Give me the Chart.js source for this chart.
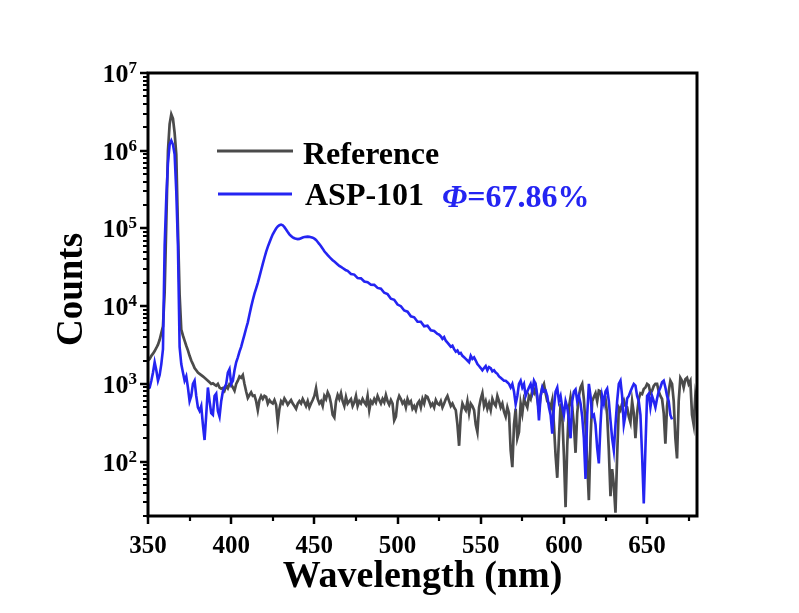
<!DOCTYPE html>
<html><head><meta charset="utf-8">
<script src="https://cdn.jsdelivr.net/npm/chart.js@4.4.1/dist/chart.umd.min.js"></script>
<style>html,body{margin:0;padding:0;background:#fff;}canvas{display:block;}</style>
</head><body>
<canvas id="c" width="799" height="613"></canvas>
<script>
const seriesNames = ['Reference', 'ASP-101'];
const yieldSymbol = 'Φ';
const yieldValue = '=67.86%';
const xAxisTitle = 'Wavelength (nm)';
const yAxisTitle = 'Counts';
const xTickLabels = [350, 400, 450, 500, 550, 600, 650];
const xMinorTicks = [375, 425, 475, 525, 575, 625, 675];
const yDecadeExponents = [2, 3, 4, 5, 6, 7];
const yMinorMultipliers = [2, 3, 4, 5, 6, 7, 8, 9];

const refWavelength = [
350,351,352,353,354,355,356,357,358,359,360,361,362,363,364,365,366,367,368,369,
370,371,372,373,374,375,376,377,378,379,380,381,382,383,384,385,386,387,388,389,
390,391,392,393,394,395,396,397,398,399,400,401,402,403,404,405,406,407,408,409,
410,411,412,413,414,415,416,417,418,419,420,421,422,423,424,425,426,427,428,429,
430,431,432,433,434,435,436,437,438,439,440,441,442,443,444,445,446,447,448,449,
450,451,452,453,454,455,456,457,458,459,460,461,462,463,464,465,466,467,468,469,
470,471,472,473,474,475,476,477,478,479,480,481,482,483,484,485,486,487,488,489,
490,491,492,493,494,495,496,497,498,499,500,501,502,503,504,505,506,507,508,509,
510,511,512,513,514,515,516,517,518,519,520,521,522,523,524,525,526,527,528,529,
530,531,532,533,534,535,536,537,538,539,540,541,542,543,544,545,546,547,548,549,
550,551,552,553,554,555,556,557,558,559,560,561,562,563,564,565,566,567,568,569,
570,571,572,573,574,575,576,577,578,579,580,581,582,583,584,585,586,587,588,589,
590,591,592,593,594,595,596,597,598,599,600,601,602,603,604,605,606,607,608,609,
610,611,612,613,614,615,616,617,618,619,620,621,622,623,624,625,626,627,628,629,
630,631,632,633,634,635,636,637,638,639,640,641,642,643,644,645,646,647,648,649,
650,651,652,653,654,655,656,657,658,659,660,661,662,663,664,665,666,667,668,669,
670,671,672,673,674,675,676,677,678,679,680];
const refCounts = [
2000,2100,2300,2450,2650,2900,3200,3700,4500,5500,
15000,120000,1000000,2200000,2950000,2600000,1700000,900000,100000,14000,
5000,4200,3600,3100,2700,2300,2000,1800,1600,1500,
1400,1350,1300,1250,1200,1150,1100,1050,1000,1020,
980,950,1000,900,870,890,820,950,880,1000,
980,900,820,1000,1100,1250,1200,1300,1000,800,
660,720,780,700,710,600,460,620,700,640,
700,680,560,620,580,560,620,540,320,480,
600,560,650,600,540,580,620,560,520,480,
560,600,560,640,580,520,600,500,560,620,
700,880,640,560,600,520,700,640,780,700,
560,400,370,600,720,640,760,600,520,680,
560,600,640,520,580,700,520,600,560,640,
580,540,700,460,600,560,640,580,700,620,
560,640,580,720,600,540,620,560,340,380,
600,700,640,560,600,500,640,560,600,480,
520,460,560,600,500,640,560,700,680,600,
520,560,500,620,560,540,600,500,560,640,
700,600,520,560,500,460,300,160,400,560,
500,460,600,420,560,520,460,300,240,500,
640,760,520,600,480,560,460,640,560,520,
700,600,500,560,440,380,500,420,140,85,
300,480,200,240,560,420,640,560,500,700,
640,820,760,900,640,460,700,900,1000,760,
600,560,500,620,300,120,62,200,560,400,
120,26,160,500,680,500,300,130,420,700,
900,1000,640,300,100,32,200,600,680,760,
600,820,800,560,600,640,400,140,36,80,
50,22,120,500,460,560,620,520,500,380,
320,600,420,200,420,640,760,740,860,900,
1000,960,760,820,940,1000,1000,800,700,640,
420,170,520,800,1100,1000,600,200,110,600,
1200,1100,900,1150,1200,1000,1100,400,300,700,500];

const aspWavelength = [
350,351,352,353,354,355,356,357,358,359,360,361,362,363,364,365,366,367,368,369,
370,371,372,373,374,375,376,377,378,379,380,381,382,383,384,385,386,387,388,389,
390,391,392,393,394,395,396,397,398,399,400,401,402,403,404,405,406,407,408,409,
410,411,412,413,414,415,416,417,418,419,420,421,422,423,424,425,426,427,428,429,
430,431,432,433,434,435,436,437,438,439,440,441,442,443,444,445,446,447,448,449,
450,451,452,453,454,455,456,457,458,459,460,461,462,463,464,465,466,467,468,469,
470,472,474,476,478,480,482,484,486,488,490,492,494,496,498,500,502,504,506,508,
510,512,514,516,518,520,522,524,525,526,527,528,529,
530,531,532,533,534,535,536,537,538,539,540,541,542,543,544,545,546,547,548,549,
550,551,552,553,554,555,556,557,558,559,560,561,562,563,564,565,566,567,568,569,
570,571,572,573,574,575,576,577,578,579,580,581,582,583,584,585,586,587,588,589,
590,591,592,593,594,595,596,597,598,599,600,601,602,603,604,605,606,607,608,609,
610,611,612,613,614,615,616,617,618,619,620,621,622,623,624,625,626,627,628,629,
630,631,632,633,634,635,636,637,638,639,640,641,642,643,644,645,646,647,648,649,
650,651,652,653,654,655,656,657,658,659,660,661,662,663,664,665];
const aspCounts = [
880,900,1100,1400,1900,1500,1100,1300,1800,2800,
60000,250000,700000,1200000,1350000,1200000,900000,300000,60000,3000,
1800,1400,1100,1250,900,600,700,1000,1100,700,
500,450,520,300,190,400,900,600,420,400,
700,750,450,380,600,800,900,1000,1400,1550,
1000,1100,1500,1900,2200,2600,3000,3600,4300,5200,
6200,7800,9800,12000,14500,17000,20000,24000,29000,35000,
42000,50000,58000,66000,75000,84000,92000,100000,106000,110000,
112000,110000,104000,97000,90000,84000,80000,77000,75000,74000,
73000,73500,75000,76500,77500,78000,78500,78000,77000,76000,
74000,71000,67000,63000,59000,55000,51000,48000,45500,43000,
41000,39000,37500,36000,34500,33000,32000,31000,30000,29000,
28500,26000,25500,23000,22800,20800,20300,18900,18800,17200,
16800,14900,14300,12500,12100,10500,10000,8800,8500,7400,
7200,6300,6300,5500,5600,4900,4800,4400,4300,4100,3800,4000,3600,
3400,3200,3000,3100,2800,2600,2700,2450,2500,2300,
2200,2100,2000,1900,2300,2100,2200,2000,1800,1700,
1600,1500,1600,1700,1500,1650,1600,1450,1500,1400,
1350,1250,1200,1150,1100,1100,1050,1000,900,1000,
800,550,700,1000,1100,900,1000,700,800,900,
1000,800,1100,1000,700,340,700,900,800,820,
700,500,400,230,500,800,900,600,700,500,
400,600,500,350,200,600,800,850,600,700,
560,380,200,60,400,1000,700,380,400,300,
150,95,300,700,560,800,870,600,340,200,
140,300,600,1000,1100,700,300,400,650,700,
800,900,1000,950,700,600,400,120,29,150,
700,750,500,700,600,500,650,800,900,1050,
1100,900,700,600,400,350];

const GRAY = '#4b4b4b';
const BLUE = '#2424f2';
const FONT = '"Liberation Serif", "Times New Roman", serif';

const decorations = {
  id: 'decorations',
  afterDatasetsDraw(chart) {
    const {ctx, chartArea: a, scales: {x, y}} = chart;
    ctx.save();
    ctx.strokeStyle = '#000';
    ctx.fillStyle = '#000';
    const seg = (x1, y1, x2, y2, w) => { ctx.lineWidth = w; ctx.beginPath(); ctx.moveTo(x1, y1); ctx.lineTo(x2, y2); ctx.stroke(); };
    for (const v of xTickLabels) { const p = Math.round(x.getPixelForValue(v)); seg(p, a.bottom, p, a.bottom + 8, 2.5); }
    for (const v of xMinorTicks) { const p = Math.round(x.getPixelForValue(v)); seg(p, a.bottom, p, a.bottom + 5, 2.2); }
    for (const e of yDecadeExponents) {
      const p = Math.round(y.getPixelForValue(Math.pow(10, e)));
      seg(a.left - 8, p, a.left, p, 2.5);
    }
    for (let e = yDecadeExponents[0] - 1; e <= yDecadeExponents[yDecadeExponents.length - 1]; e++) {
      for (const m of yMinorMultipliers) {
        const v = m * Math.pow(10, e);
        if (v < y.min || v > y.max) continue;
        const p = Math.round(y.getPixelForValue(v));
        seg(a.left - 5, p, a.left, p, 2);
      }
    }
    ctx.lineWidth = 3;
    ctx.strokeRect(a.left, a.top, a.right - a.left, a.bottom - a.top);
    ctx.font = 'bold 25px ' + FONT;
    ctx.textAlign = 'center';
    ctx.textBaseline = 'alphabetic';
    for (const v of xTickLabels) ctx.fillText(String(v), x.getPixelForValue(v), a.bottom + 37);
    for (const e of yDecadeExponents) {
      const p = y.getPixelForValue(Math.pow(10, e));
      ctx.font = 'bold 17px ' + FONT;
      ctx.textAlign = 'right';
      const right = a.left - 11;
      const sw = ctx.measureText(String(e)).width;
      ctx.fillText(String(e), right, p + 0);
      ctx.font = 'bold 26px ' + FONT;
      ctx.fillText('10', right - sw, p + 9);
    }
    ctx.font = 'bold 38px ' + FONT;
    ctx.textAlign = 'center';
    ctx.fillText(xAxisTitle, (a.left + a.right) / 2, 587);
    ctx.save();
    ctx.translate(82, (a.top + a.bottom) / 2 - 5);
    ctx.rotate(-Math.PI / 2);
    ctx.font = 'bold 37px ' + FONT;
    ctx.fillText(yAxisTitle, 0, 0);
    ctx.restore();
    ctx.lineCap = 'butt';
    ctx.strokeStyle = GRAY; seg(217, 151, 293, 151, 3);
    ctx.strokeStyle = BLUE; seg(218, 194, 292, 194, 3);
    ctx.font = 'bold 32px ' + FONT;
    ctx.textAlign = 'left';
    ctx.fillStyle = '#000';
    ctx.fillText(seriesNames[0], 303, 164);
    ctx.fillText(seriesNames[1], 305, 205);
    ctx.fillStyle = BLUE;
    ctx.font = 'italic bold 32px ' + FONT;
    ctx.fillText(yieldSymbol, 442, 207);
    const phw = ctx.measureText(yieldSymbol).width;
    ctx.font = 'bold 32px ' + FONT;
    ctx.fillText(yieldValue, 442 + phw, 207);
    ctx.restore();
  }
};

new Chart(document.getElementById('c'), {
  type: 'line',
  data: {
    datasets: [
      { label: seriesNames[0], data: refWavelength.map((w, i) => ({x: w, y: refCounts[i]})), borderColor: GRAY, borderWidth: 2.7, order: 2 },
      { label: seriesNames[1], data: aspWavelength.map((w, i) => ({x: w, y: aspCounts[i]})), borderColor: BLUE, borderWidth: 2.6, order: 1 }
    ]
  },
  options: {
    responsive: false,
    animation: false,
    devicePixelRatio: 1,
    layout: { padding: { left: 148, top: 73, right: 102, bottom: 97 } },
    plugins: { legend: { display: false }, tooltip: { enabled: false } },
    elements: { point: { radius: 0 }, line: { tension: 0, fill: false } },
    scales: {
      x: { type: 'linear', min: 350, max: 680, display: false },
      y: { type: 'logarithmic', min: 20, max: 1e7, display: false }
    }
  },
  plugins: [decorations]
});
</script>
</body></html>
